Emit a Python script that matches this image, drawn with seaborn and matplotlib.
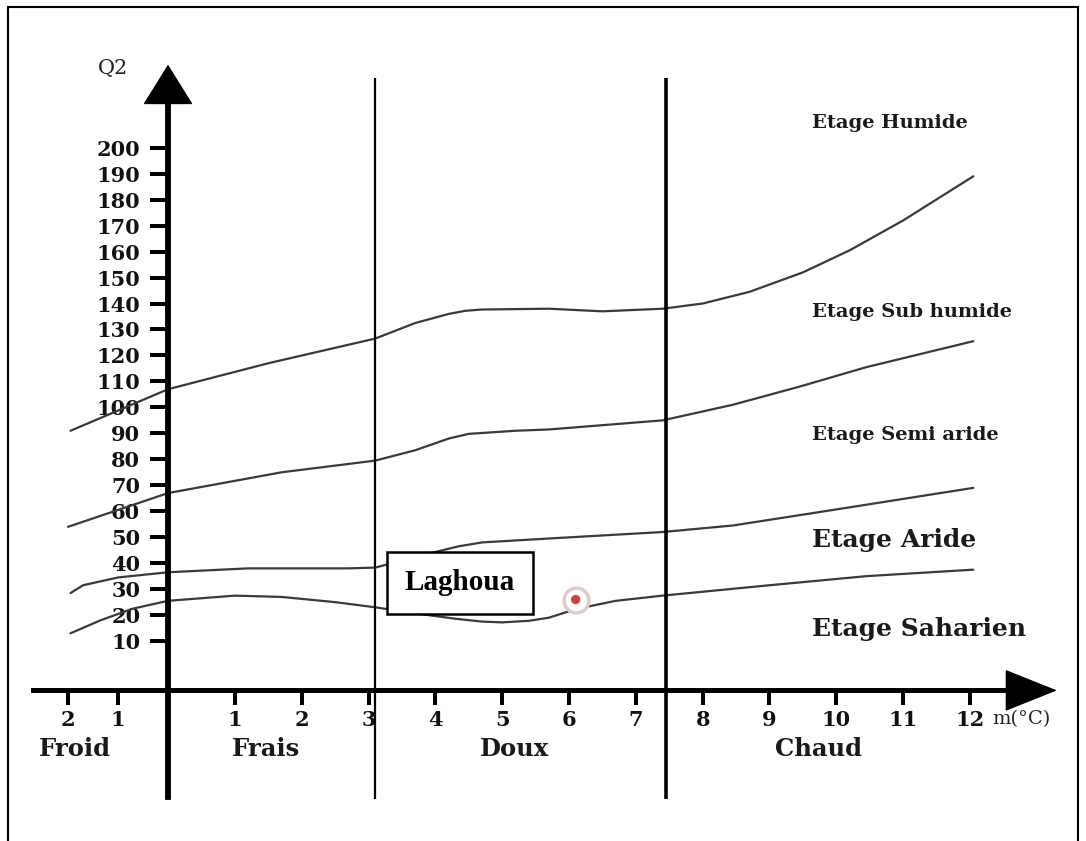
import numpy as np
import matplotlib
matplotlib.use('Agg')
import matplotlib.pyplot as plt
from matplotlib.patches import Rectangle
import seaborn as sns

# Emberger climagram: boundary curves (m in °C, Q2)
humide_m = [-1.95, 0, 1.5, 3.1, 3.7, 4.2, 4.45, 4.7, 5.7, 6.5, 7.4, 8.0, 8.7, 9.5, 10.2, 11.0, 12.05]
humide_q2 = [91, 107, 117, 126.5, 132.5, 136, 137.2, 137.7, 138, 137, 138, 140, 144.5, 152, 160.5, 172, 189]

subhumide_m = [-2.0, 0, 1.7, 3.1, 3.7, 4.2, 4.5, 5.2, 5.7, 7.4, 8.45, 9.45, 10.45, 12.05]
subhumide_q2 = [54, 67, 75, 79.5, 83.5, 88, 89.8, 91, 91.5, 95, 101, 108, 115.5, 125.5]

semiaride_m = [-1.95, -1.7, -1.0, 0, 1.2, 2.7, 3.1, 3.5, 3.95, 4.35, 4.7, 5.7, 7.4, 8.45, 9.95, 12.05]
semiaride_q2 = [28.5, 31.5, 34.5, 36.5, 38, 38, 38.3, 41, 44, 46.5, 48, 49.5, 52, 54.5, 60.5, 69]

aride_m = [-1.95, -1.35, -0.7, 0, 1.0, 1.7, 2.5, 3.1, 3.75, 4.3, 4.7, 5.0, 5.4, 5.7, 6.1, 6.7, 7.4, 9.0, 10.45, 12.05]
aride_q2 = [13, 18, 22.5, 25.5, 27.5, 27, 25, 23, 20.5, 18.6, 17.5, 17.2, 17.8, 19, 22.3, 25.5, 27.5, 31.5, 35, 37.5]

# station
station_name = 'Laghoua'
station_m = [6.1]
station_q2 = [26]

# axes ticks
q2_ticks = list(range(10, 201, 10))
m_ticks = [-2, -1, 1, 2, 3, 4, 5, 6, 7, 8, 9, 10, 11, 12]
m_tick_labels = ['2', '1', '1', '2', '3', '4', '5', '6', '7', '8', '9', '10', '11', '12']

# winter temperature classes and their limits
classes = ['Froid', 'Frais', 'Doux', 'Chaud']
class_limits = [3.1, 7.45]
stages = ['Etage Humide', 'Etage Sub humide', 'Etage Semi aride', 'Etage Aride', 'Etage Saharien']

sns.set_style('white')
plt.rcParams['font.family'] = ['DejaVu Serif']

fig = plt.figure(figsize=(10.86, 8.41), dpi=100)
ax = fig.add_axes([0, 0, 1, 1])
ax.set_facecolor('white')

# the hand-drawn chart squeezes the negative side of the m axis
squeeze = 0.748


def fwd(x):
    x = np.asarray(x, dtype=float)
    return np.where(x < 0, x * squeeze, x)


def inv(u):
    u = np.asarray(u, dtype=float)
    return np.where(u < 0, u / squeeze, u)


ax.set_xscale('function', functions=(fwd, inv))
ax.set_xlim(-2.514 / squeeze, 13.736)
ax.set_ylim(-67.0, 256.9)

for m, q in [(humide_m, humide_q2), (subhumide_m, subhumide_q2),
             (semiaride_m, semiaride_q2), (aride_m, aride_q2)]:
    sns.lineplot(x=m, y=q, ax=ax, color='#3a3a3a', lw=1.6, sort=False, estimator=None)

# class limits
ax.vlines(class_limits[0], -51, 227, color='black', lw=1.6)
ax.vlines(class_limits[1], -51, 227, color='black', lw=2.6)

# axes drawn as crossing arrows
for s in ['top', 'right']:
    ax.spines[s].set_visible(False)
ax.spines['left'].set_position(('data', 0))
ax.spines['bottom'].set_position(('data', -9))
ax.spines['left'].set_bounds(-50, 222)
ax.spines['bottom'].set_bounds(-2.71, 12.9)
ax.spines['left'].set_linewidth(4.2)
ax.spines['bottom'].set_linewidth(3.6)
ax.spines['left'].set_color('black')
ax.spines['bottom'].set_color('black')

ax.annotate('', xy=(0, 232), xytext=(0, 214),
            arrowprops=dict(arrowstyle='-|>,head_length=1.35,head_width=0.84',
                            mutation_scale=20, color='black', lw=1, shrinkA=0, shrinkB=0))
ax.annotate('', xy=(13.3, -9), xytext=(12.5, -9),
            arrowprops=dict(arrowstyle='-|>,head_length=1.75,head_width=0.7',
                            mutation_scale=20, color='black', lw=1, shrinkA=0, shrinkB=0))

ax.set_yticks(q2_ticks)
ax.set_xticks(m_ticks)
ax.set_xticklabels(m_tick_labels)
ax.tick_params(axis='y', left=True, direction='out', length=13, width=2.9, pad=7,
               labelsize=15, color='black', labelcolor='#111111')
ax.tick_params(axis='x', bottom=True, direction='out', length=11, width=2.9, pad=3,
               labelsize=15, color='black', labelcolor='#111111')
plt.setp(ax.get_xticklabels() + ax.get_yticklabels(), fontweight='bold')
ax.grid(False)
ax.set_xlabel('')
ax.set_ylabel('')

ax.text(-1.10, 230.7, 'Q2', ha='center', va='center', fontsize=15, color='#222222')
ax.text(12.34, -20, 'm(°C)', ha='left', va='center', fontsize=14, color='#222222')

class_centres = [-1.86, 1.47, 5.19, 9.73]
for name, xc in zip(classes, class_centres):
    ax.text(xc, -31.5, name, ha='center', va='center', fontsize=17.5,
            fontweight='bold', color='#1a1a1a')

stage_q2_pos = [209.6, 136.7, 89.4, 48.9, 14.6]
stage_sizes = [14, 14, 14, 18, 18]
for name, qy, fs in zip(stages, stage_q2_pos, stage_sizes):
    ax.text(9.64, qy, name, ha='left', va='center', fontsize=fs,
            fontweight='bold', color='#1a1a1a')

ax.text(4.37, 32.4, station_name, ha='center', va='center', fontsize=21,
        fontweight='bold', family='Liberation Serif', color='black', zorder=5,
        bbox=dict(boxstyle='square,pad=0.6', fc='white', ec='black', lw=1.8))

sns.scatterplot(x=station_m, y=station_q2, ax=ax, s=320, color='white',
                edgecolor='#e3c9c9', linewidth=2.5, zorder=6)
sns.scatterplot(x=station_m, y=station_q2, ax=ax, s=45, color='#c94040',
                edgecolor='none', zorder=7)

fig.add_artist(Rectangle((8 / 1086, -0.01), 1070 / 1086, 1.0017,
                         transform=fig.transFigure, fill=False, lw=1.5, ec='black'))

fig.savefig('out.png', dpi=100)
